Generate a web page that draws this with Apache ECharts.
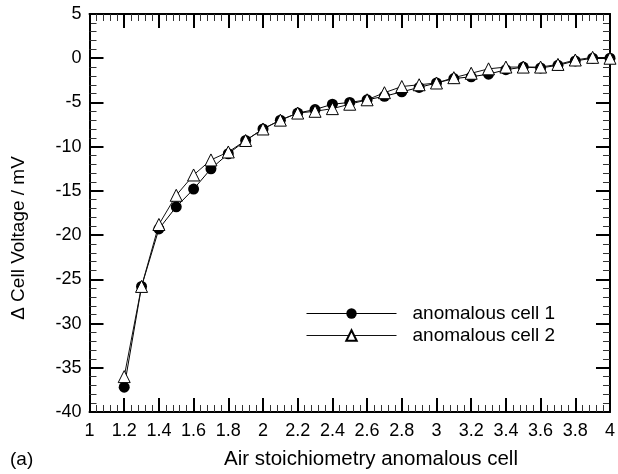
<!DOCTYPE html>
<html>
<head>
<meta charset="utf-8">
<script src="https://cdn.jsdelivr.net/npm/echarts@6/dist/echarts.min.js"></script>
<style>
  html, body { margin: 0; padding: 0; background: #fff; }
  #chart { width: 618px; height: 474px; }
</style>
</head>
<body>
<div id="chart"></div>
<script>
// Air stoichiometry of the anomalous cell
const airStoich = [1.2, 1.3, 1.4, 1.5, 1.6, 1.7, 1.8, 1.9, 2.0, 2.1, 2.2, 2.3, 2.4, 2.5, 2.6,
                   2.7, 2.8, 2.9, 3.0, 3.1, 3.2, 3.3, 3.4, 3.5, 3.6, 3.7, 3.8, 3.9, 4.0];
// Cell voltage change (mV)
const cell1 = [-37.2, -25.8, -19.3, -16.8, -14.8, -12.5, -10.8, -9.3, -8.0, -7.0, -6.2, -5.8, -5.2, -5.0, -4.7,
               -4.3, -3.8, -3.3, -2.8, -2.3, -2.1, -1.8, -1.3, -1.0, -1.1, -0.8, -0.3, 0.0, 0.0];
const cell2 = [-36.0, -25.8, -18.8, -15.5, -13.2, -11.5, -10.6, -9.3, -8.0, -7.0, -6.2, -6.0, -5.7, -5.2, -4.7,
               -3.9, -3.2, -3.0, -2.8, -2.2, -1.7, -1.2, -1.0, -1.0, -1.0, -0.7, -0.2, 0.1, 0.0];
const seriesNames = ['anomalous cell 1', 'anomalous cell 2'];
const xTitle = 'Air stoichiometry anomalous cell';
const yTitle = '\u0394 Cell Voltage / mV';
const panelTag = '(a)';

const FONT = '"Liberation Sans", Arial, Helvetica, sans-serif';

const chart = echarts.init(document.getElementById('chart'), null, { renderer: 'canvas' });

function pairs(xs, ys) { return xs.map((x, i) => [x, ys[i]]); }

const tickCommon = {
  axisLine: { show: true, onZero: false, lineStyle: { color: '#000', width: 2 } },
  axisTick: { show: true, inside: true, length: 14, lineStyle: { color: '#000', width: 2 } },
  minorTick: { show: true, splitNumber: 5, length: 7, lineStyle: { color: '#333', width: 1 } },
  splitLine: { show: false },
  minorSplitLine: { show: false }
};

const fmt = v => String(Math.round(v * 10) / 10);

chart.setOption({
  animation: false,
  textStyle: { fontFamily: FONT },
  grid: { left: 89.5, right: 4, top: 14, bottom: 62, containLabel: false },
  xAxis: [
    Object.assign({
      type: 'value', position: 'bottom', min: 1, max: 4, interval: 0.2,
      axisLabel: { show: true, color: '#000', fontSize: 18, margin: 10, fontFamily: FONT, formatter: fmt }
    }, tickCommon),
    Object.assign({
      type: 'value', position: 'top', min: 1, max: 4, interval: 0.2,
      axisLabel: { show: false }
    }, tickCommon)
  ],
  yAxis: [
    Object.assign({
      type: 'value', position: 'left', min: -40, max: 5, interval: 5,
      axisLabel: { show: true, color: '#000', fontSize: 18, margin: 8, fontFamily: FONT, formatter: fmt }
    }, tickCommon),
    Object.assign({
      type: 'value', position: 'right', min: -40, max: 5, interval: 5,
      axisLabel: { show: false }
    }, tickCommon)
  ],
  legend: {
    orient: 'vertical',
    left: 306, top: 304, padding: 0,
    itemWidth: 90, itemHeight: 13, itemGap: 3,
    lineStyle: { width: 1 },
    textStyle: { color: '#000', fontSize: 19, fontFamily: FONT, padding: [0, 0, 0, 11] },
    data: seriesNames
  },
  series: [
    {
      name: seriesNames[0], type: 'line', xAxisIndex: 0, yAxisIndex: 0,
      data: pairs(airStoich, cell1),
      symbol: 'circle', symbolSize: 11,
      lineStyle: { color: '#000', width: 1 },
      itemStyle: { color: '#000', borderColor: '#000', borderWidth: 0 },
      clip: false
    },
    {
      name: seriesNames[1], type: 'line', xAxisIndex: 0, yAxisIndex: 0,
      data: pairs(airStoich, cell2),
      symbol: 'triangle', symbolSize: 12,
      lineStyle: { color: '#111', width: 1 },
      itemStyle: { color: '#fff', borderColor: '#000', borderWidth: 1 },
      clip: false
    }
  ],
  graphic: [
    {
      type: 'text', left: 224, top: 449,
      style: { text: xTitle, fill: '#000', font: '20.5px ' + FONT }
    },
    {
      type: 'text', x: 19, y: 238, rotation: Math.PI / 2,
      style: { text: yTitle, fill: '#000', font: '19px ' + FONT, align: 'center', verticalAlign: 'middle' }
    },
    {
      type: 'text', left: 10, top: 450,
      style: { text: panelTag, fill: '#000', font: '19px ' + FONT }
    }
  ]
});
</script>
</body>
</html>
